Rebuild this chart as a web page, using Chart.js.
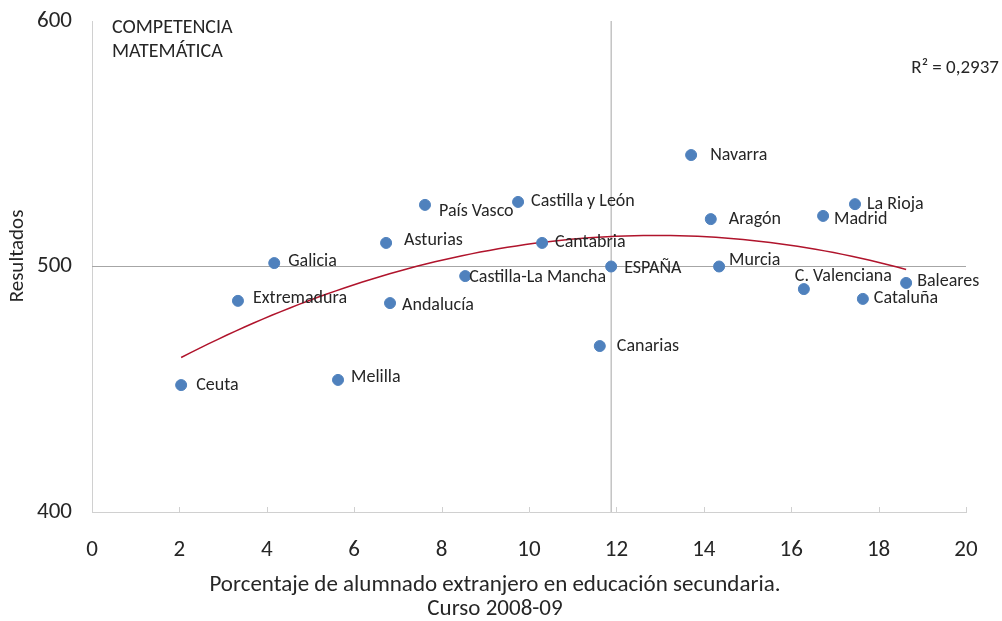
<!DOCTYPE html>
<html>
<head>
<meta charset="utf-8">
<script src="https://cdn.jsdelivr.net/npm/chart.js@4.4.0/dist/chart.umd.min.js"></script>
<style>
html,body{margin:0;padding:0;background:#fff;}
#wrap{width:1002px;height:621px;position:relative;}
canvas{display:block;}
</style>
</head>
<body>
<div id="wrap"><canvas id="c" width="1002" height="621"></canvas></div>
<script>
// ---- Data ----
const regions = ['Ceuta','Extremadura','Galicia','Melilla','Asturias','Andalucía','País Vasco','Castilla-La Mancha','Castilla y León','Cantabria','Canarias','ESPAÑA','Navarra','Aragón','Murcia','C. Valenciana','Madrid','La Rioja','Cataluña','Baleares'];
const foreignPct = [2.04,3.34,4.17,5.63,6.73,6.82,7.62,8.54,9.75,10.30,11.62,11.88,13.71,14.16,14.35,16.29,16.73,17.46,17.64,18.63];
const mathScore = [451.7,486.0,501.4,453.8,509.6,485.1,525.1,496.1,526.3,509.6,467.6,500.0,545.4,519.3,500.0,490.8,520.6,525.4,486.8,493.3];
const referenceName = 'ESPAÑA';
const xTickValues = [0,2,4,6,8,10,12,14,16,18,20];
const yTickValues = [400,500,600];
const chartTitle = ['COMPETENCIA','MATEMÁTICA'];
const rSquaredText = 'R² = 0,2937';
const xTitle = ['Porcentaje de alumnado extranjero en educación secundaria.','Curso 2008-09'];
const yTitle = 'Resultados';

// label placement (layout only), same order as regions: [dx, dy] in px
const labelOffsets = [[15,0],[15,-2],[14,-2],[13,-2],[18,-2],[12,2],[14,7],[4,1],[13,0],[13,0],[17,0],[13,2],[19,0],[18,0],[10,-6],[-9,-13],[11,4],[12,0],[11,0],[11,-1]];

// ---- Derived ----
const refIdx = regions.indexOf(referenceName);
const points = regions.map((r,i)=>({x:foreignPct[i], y:mathScore[i]}));

// Least-squares quadratic trendline over the regions (excluding the national reference)
function quadFit(xs, ys){
  let S=[0,0,0,0,0], T=[0,0,0];
  for(let i=0;i<xs.length;i++){
    const x=xs[i], y=ys[i];
    let p=1;
    for(let k=0;k<5;k++){S[k]+=p; if(k<3) T[k]+=p*y; p*=x;}
  }
  const A=[[S[0],S[1],S[2],T[0]],[S[1],S[2],S[3],T[1]],[S[2],S[3],S[4],T[2]]];
  for(let c=0;c<3;c++){
    let piv=c; for(let r=c+1;r<3;r++) if(Math.abs(A[r][c])>Math.abs(A[piv][c])) piv=r;
    [A[c],A[piv]]=[A[piv],A[c]];
    for(let r=0;r<3;r++){ if(r===c) continue; const f=A[r][c]/A[c][c]; for(let k=c;k<4;k++) A[r][k]-=f*A[c][k]; }
  }
  return [A[0][3]/A[0][0], A[1][3]/A[1][1], A[2][3]/A[2][2]];
}
const fitX = foreignPct.filter((v,i)=>i!==refIdx);
const fitY = mathScore.filter((v,i)=>i!==refIdx);
const coef = quadFit(fitX, fitY);
const xMin = Math.min(...fitX), xMax = Math.max(...fitX);
const trend = [];
for(let k=0;k<=80;k++){ const x = xMin + (xMax-xMin)*k/80; trend.push({x, y: coef[0]+coef[1]*x+coef[2]*x*x}); }

const refX = foreignPct[refIdx], refY = mathScore[refIdx];
const vLine = [{x:refX, y:yTickValues[0]},{x:refX, y:yTickValues[yTickValues.length-1]}];
const hLine = [{x:xTickValues[0], y:refY},{x:xTickValues[xTickValues.length-1], y:refY}];

const FONT = 'Carlito, Lato, "Liberation Sans", sans-serif';
const TXT = '#262626';

const labelPlugin = {
  id:'pointLabels',
  afterDatasetsDraw(chart){
    const ctx = chart.ctx;
    const meta = chart.getDatasetMeta(0);
    ctx.save();
    ctx.font = '18px ' + FONT;
    ctx.fillStyle = TXT;
    ctx.textBaseline = 'middle';
    ctx.textAlign = 'left';
    meta.data.forEach((el,i)=>{
      const o = labelOffsets[i];
      ctx.fillText(regions[i], el.x + o[0], el.y + o[1]);
    });
    // chart title inside plot area & R²
    const area = chart.chartArea;
    ctx.font = '20px ' + FONT;
    ctx.fillText(chartTitle[0], area.left + 20, area.top + 7);
    ctx.fillText(chartTitle[1], area.left + 20, area.top + 31);
    ctx.font = '19px ' + FONT;
    ctx.textAlign = 'right';
    ctx.fillText(rSquaredText, chart.width - 3, area.top + 47);
    // axis titles
    ctx.textAlign = 'center';
    ctx.font = '23px ' + FONT;
    ctx.fillText(xTitle[0], 495, 585);
    ctx.fillText(xTitle[1], 495, 609);
    ctx.save();
    ctx.translate(18, 256);
    ctx.rotate(-Math.PI/2);
    ctx.font = '21px ' + FONT;
    ctx.fillText(yTitle, 0, 0);
    ctx.restore();
    // small inner tick marks on x axis
    const xs = chart.scales.x;
    ctx.strokeStyle = '#D0D0D0';
    ctx.lineWidth = 1;
    xTickValues.forEach(v=>{
      const px = Math.round(xs.getPixelForValue(v)) + 0.5;
      ctx.beginPath(); ctx.moveTo(px, area.bottom); ctx.lineTo(px, area.bottom - 5); ctx.stroke();
    });
    ctx.restore();
  }
};

new Chart(document.getElementById('c'), {
  type:'scatter',
  data:{
    datasets:[
      {label:'Comunidades', data:points, backgroundColor:'#4F81BD', borderColor:'#4F81BD', pointRadius:5.5, pointHoverRadius:5.5, order:1},
      {label:'Tendencia', type:'line', data:trend, borderColor:'#B0142C', borderWidth:1.5, pointRadius:0, fill:false, tension:0, order:2},
      {label:'refV', type:'line', data:vLine, borderColor:'#A6A6A6', borderWidth:1, pointRadius:0, fill:false, order:3},
      {label:'refH', type:'line', data:hLine, borderColor:'#A6A6A6', borderWidth:1, pointRadius:0, fill:false, order:3}
    ]
  },
  options:{
    responsive:false,
    devicePixelRatio:1,
    animation:false,
    events:[],
    layout:{padding:{left:0,right:36,top:21,bottom:0}},
    plugins:{legend:{display:false}, tooltip:{enabled:false}},
    scales:{
      x:{
        type:'linear', min:xTickValues[0], max:xTickValues[xTickValues.length-1],
        afterBuildTicks(s){ s.ticks = xTickValues.map(v=>({value:v})); },
        grid:{display:false, drawTicks:false},
        border:{display:true, color:'#D0D0D0', width:1},
        ticks:{padding:24, color:TXT, font:{size:23, family:FONT}, maxRotation:0},
        title:{display:false},
        afterFit(s){ s.height = 109; s.paddingLeft = 0; s.paddingRight = 0; }
      },
      y:{
        type:'linear', min:yTickValues[0], max:yTickValues[yTickValues.length-1],
        afterBuildTicks(s){ s.ticks = yTickValues.map(v=>({value:v})); },
        grid:{display:false, drawTicks:false},
        border:{display:true, color:'#D0D0D0', width:1},
        ticks:{padding:20, color:TXT, font:{size:23, family:FONT}},
        title:{display:false},
        afterFit(s){ s.width = 92; s.paddingTop = 0; s.paddingBottom = 0; }
      }
    }
  },
  plugins:[labelPlugin]
});
</script>
</body>
</html>
